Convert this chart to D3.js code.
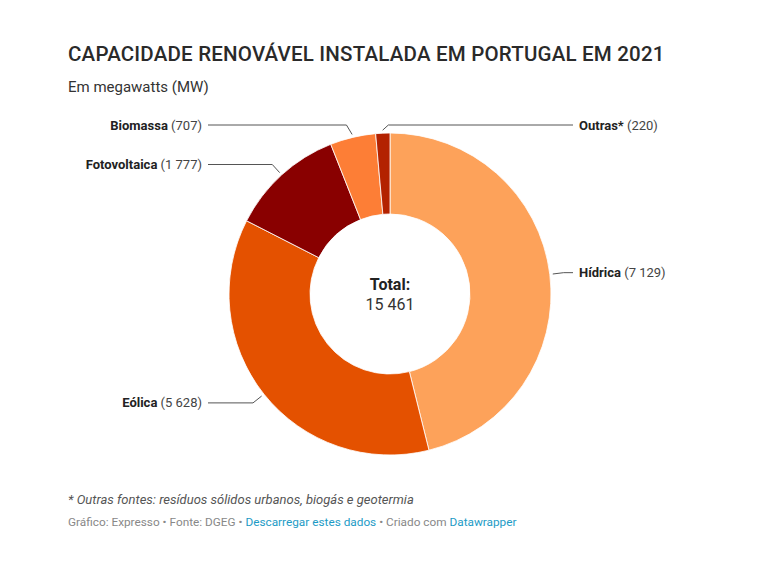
<!DOCTYPE html>
<html>
<head>
<meta charset="utf-8">
<script src="https://cdn.jsdelivr.net/npm/d3@7"></script>
<style>
  body { margin: 0; background: #fff; font-family: Roboto, sans-serif; }
  svg text { font-family: Roboto, sans-serif; }
</style>
</head>
<body>
<svg id="chart" width="770" height="578"></svg>
<script>
// data (MW), clockwise from 12 o'clock
var categories = ['Hídrica', 'Eólica', 'Fotovoltaica', 'Biomassa', 'Outras*']
var values = [7129, 5628, 1777, 707, 220]
var colors = ['#fda25a', '#e45100', '#890000', '#fd7e36', '#b32200']

var svg = d3.select('#chart')
var fmt = function(v) { return d3.format(',')(v).replace(/,/g, ' ') }

// header
svg.append('text')
  .attr('x', 68).attr('y', 61)
  .style('font-size', '20.5px').style('font-weight', 500)
  .style('letter-spacing', '0.2px')
  .attr('fill', '#2a2a2a')
  .text('CAPACIDADE RENOVÁVEL INSTALADA EM PORTUGAL EM 2021')

svg.append('text')
  .attr('x', 68).attr('y', 92)
  .style('font-size', '15px')
  .attr('fill', '#333')
  .text('Em megawatts (MW)')

// donut
var cx = 390, cy = 294, r = 161, r0 = 80

var data = categories.map(function(c, i) { return { name: c, value: values[i], color: colors[i] } })

var pie = d3.pie().sort(null).value(function(d) { return d.value })
var arcs = pie(data)
var arc = d3.arc().innerRadius(r0).outerRadius(r)

var g = svg.append('g').attr('transform', 'translate(' + cx + ',' + cy + ')')

g.selectAll('path.slice')
  .data(arcs).enter()
  .append('path')
  .attr('class', 'slice')
  .attr('d', arc)
  .attr('fill', function(d) { return d.data.color })
  .attr('stroke', '#fff')
  .attr('stroke-width', 0.8)

// label layout: side by angle, then flip crowded ones near the top
var labels = arcs.map(function(d) {
  var mid = (d.startAngle + d.endAngle) / 2
  return { d: d, mid: mid, right: Math.sin(mid) >= 0,
           ly: Math.max(-(r + 14) * Math.cos(mid), -r - 8) }
})
var lefts = labels.filter(function(l) { return !l.right }).sort(function(a, b) { return a.ly - b.ly })
for (var i = 1; i < lefts.length; i++) {
  if (lefts[i].ly - lefts[i - 1].ly < 18) {
    // the one nearest 12 o'clock goes to the right
    var flip = lefts[i].mid > lefts[i - 1].mid ? lefts[i] : lefts[i - 1]
    flip.right = true
  }
}

var leftX = -188, rightX = 189
labels.forEach(function(l) {
  var d = l.d
  var s = Math.sin(l.mid), c = Math.cos(l.mid)
  var right = l.right
  var sx = (r + 3) * s, sy = -(r + 3) * c
  var ly = l.ly
  var ex = (r + 14) * s
  if (right) ex = Math.max(ex, sx + Math.abs(sy - ly) * 1.1)
  else ex = Math.min(ex, sx - Math.abs(sy - ly) * 0.6)
  var lx = right ? rightX - 6 : leftX + 6

  g.append('polyline')
    .attr('points', [[sx, sy], [ex, ly], [lx, ly]].map(function(p) { return p.join(',') }).join(' '))
    .attr('fill', 'none')
    .attr('stroke', '#555')
    .attr('stroke-width', 1)

  var t = g.append('text')
    .attr('x', right ? rightX : leftX)
    .attr('y', ly)
    .attr('dy', '0.35em')
    .attr('text-anchor', right ? 'start' : 'end')
    .style('font-size', '13px')
  t.append('tspan').style('font-weight', 700).attr('fill', '#222').text(d.data.name)
  t.append('tspan').attr('fill', '#444').text(' (' + fmt(d.data.value) + ')')
})

// center total
g.append('text')
  .attr('y', -4).attr('text-anchor', 'middle')
  .style('font-size', '16px').style('font-weight', 700)
  .attr('fill', '#222')
  .text('Total:')
g.append('text')
  .attr('y', 16).attr('text-anchor', 'middle')
  .style('font-size', '16px')
  .attr('fill', '#333')
  .text(fmt(d3.sum(values)))

// footer
svg.append('text')
  .attr('x', 68).attr('y', 504)
  .style('font-size', '13px').style('font-style', 'italic')
  .attr('fill', '#555')
  .text('* Outras fontes: resíduos sólidos urbanos, biogás e geotermia')

var foot = svg.append('text')
  .attr('x', 68).attr('y', 526)
  .style('font-size', '11.8px')
  .attr('fill', '#888')
foot.append('tspan').text('Gráfico: Expresso • Fonte: DGEG • ')
foot.append('tspan').attr('fill', '#1d9bc6').text('Descarregar estes dados')
foot.append('tspan').text(' • Criado com ')
foot.append('tspan').attr('fill', '#1d9bc6').text('Datawrapper')
</script>
</body>
</html>
